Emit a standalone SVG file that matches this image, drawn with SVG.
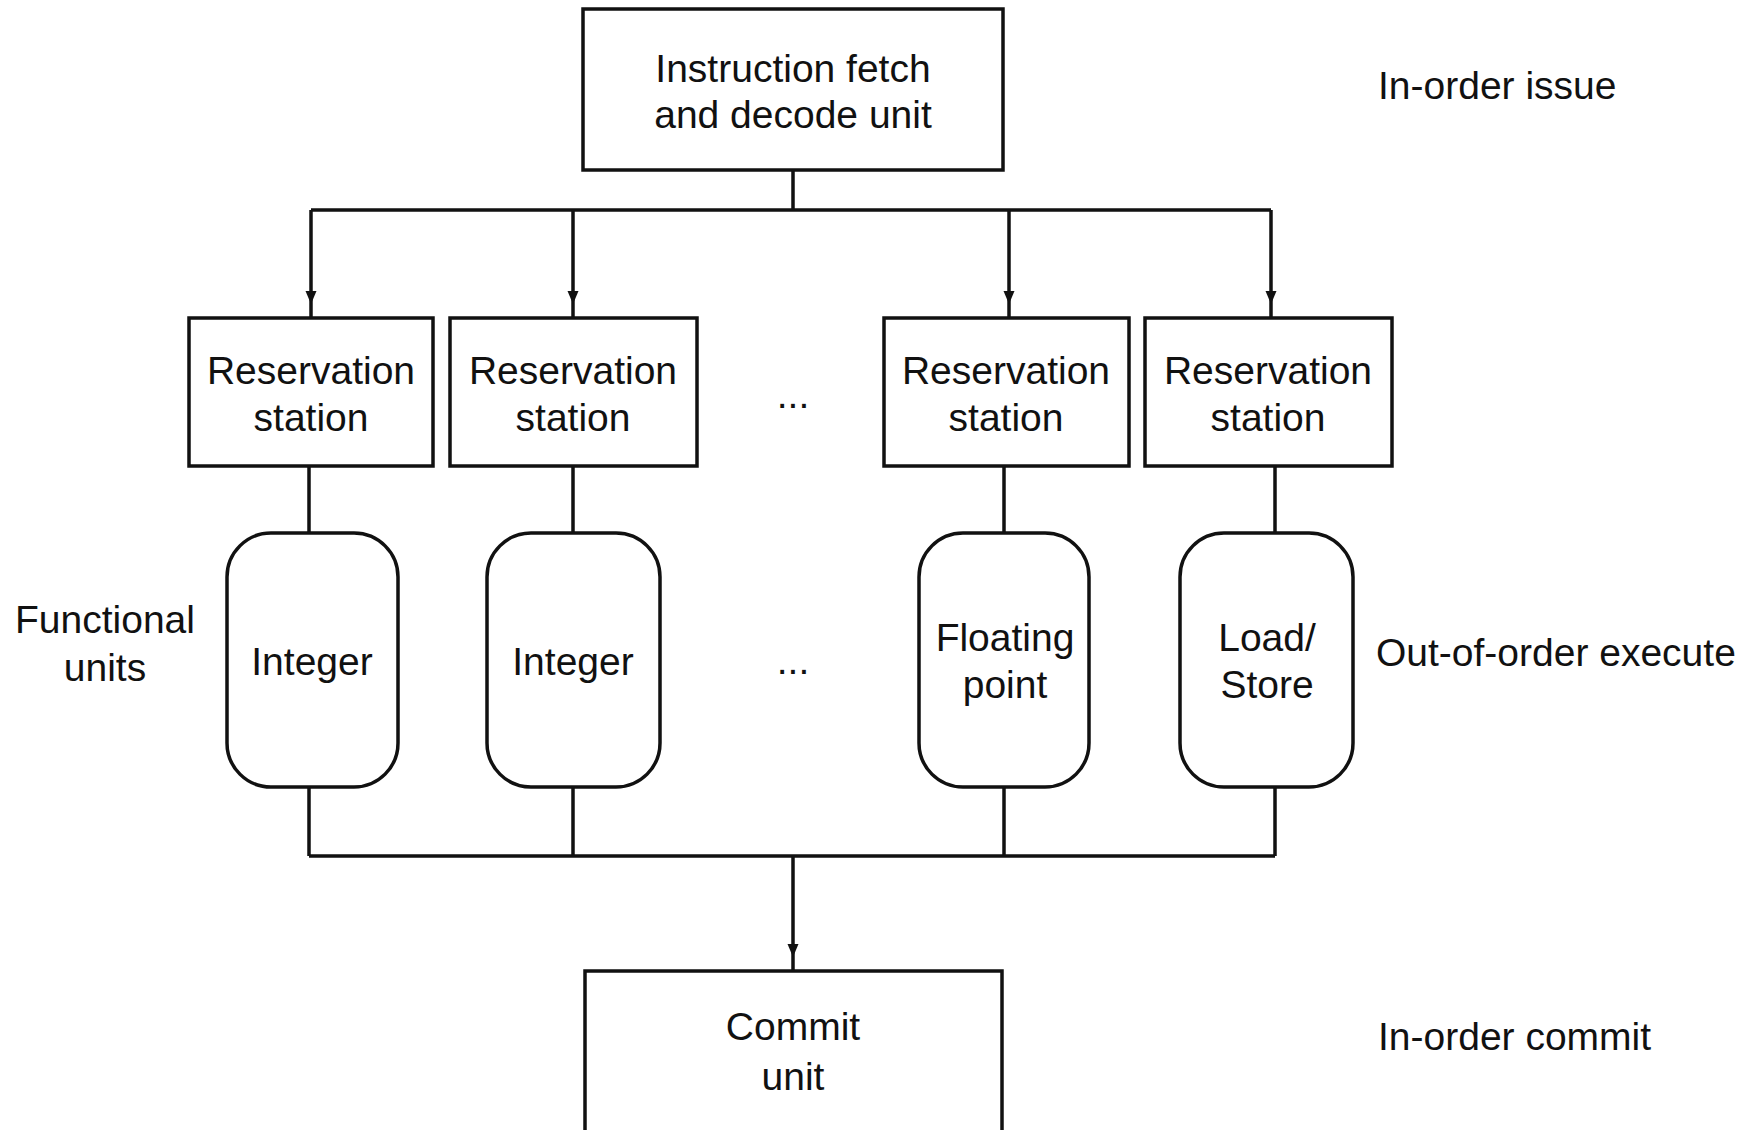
<svg xmlns="http://www.w3.org/2000/svg" width="1761" height="1130" viewBox="0 0 1761 1130">
<style>
.box{fill:#fff;stroke:#111;stroke-width:3.5}
.ln{fill:none;stroke:#111;stroke-width:3.5}
text{font-family:"Liberation Sans",Arial,sans-serif;font-size:39px;fill:#111}
.c{text-anchor:middle}
</style>
<defs>
<marker id="ah" markerUnits="userSpaceOnUse" viewBox="0 0 13 12" markerWidth="13" markerHeight="12" refX="27" refY="6" orient="auto">
<path d="M0,0.5 L13,6 L0,11.5 z" fill="#111"/>
</marker>
</defs>
<rect width="1761" height="1130" fill="#fff"/>
<g id="connectors">
<path class="ln" d="M793,170 V210 M311,210 H1271"/>
<path class="ln" d="M311,210 V318" marker-end="url(#ah)"/>
<path class="ln" d="M573,210 V318" marker-end="url(#ah)"/>
<path class="ln" d="M1009,210 V318" marker-end="url(#ah)"/>
<path class="ln" d="M1271,210 V318" marker-end="url(#ah)"/>
<path class="ln" d="M309,466 V533 M573,466 V533 M1004,466 V533 M1275,466 V533"/>
<path class="ln" d="M309,787 V856 M573,787 V856 M1004,787 V856 M1275,787 V856 M309,856 H1275"/>
<path class="ln" d="M793,856 V971" marker-end="url(#ah)"/>
</g>
<g id="fetch">
<rect class="box" x="583" y="9" width="420" height="161"/>
<text class="c" x="793" y="82">Instruction fetch</text>
<text class="c" x="793" y="128">and decode unit</text>
</g>
<g id="rs1">
<rect class="box" x="189" y="318" width="244" height="148"/>
<text class="c" x="311" y="384">Reservation</text>
<text class="c" x="311" y="431">station</text>
</g>
<g id="rs2">
<rect class="box" x="450" y="318" width="247" height="148"/>
<text class="c" x="573" y="384">Reservation</text>
<text class="c" x="573" y="431">station</text>
</g>
<g id="dots1"><text class="c" x="793" y="408">...</text></g>
<g id="rs3">
<rect class="box" x="884" y="318" width="245" height="148"/>
<text class="c" x="1006" y="384">Reservation</text>
<text class="c" x="1006" y="431">station</text>
</g>
<g id="rs4">
<rect class="box" x="1145" y="318" width="247" height="148"/>
<text class="c" x="1268" y="384">Reservation</text>
<text class="c" x="1268" y="431">station</text>
</g>
<g id="fu-label">
<text class="c" x="105" y="633">Functional</text>
<text class="c" x="105" y="681">units</text>
</g>
<g id="fu1">
<rect class="box" x="227" y="533" width="171" height="254" rx="44" ry="44"/>
<text class="c" x="312" y="675">Integer</text>
</g>
<g id="fu2">
<rect class="box" x="487" y="533" width="173" height="254" rx="44" ry="44"/>
<text class="c" x="573" y="675">Integer</text>
</g>
<g id="dots2"><text class="c" x="793" y="674">...</text></g>
<g id="fu3">
<rect class="box" x="919" y="533" width="170" height="254" rx="44" ry="44"/>
<text class="c" x="1005" y="651">Floating</text>
<text class="c" x="1005" y="698">point</text>
</g>
<g id="fu4">
<rect class="box" x="1180" y="533" width="173" height="254" rx="44" ry="44"/>
<text class="c" x="1267" y="651">Load/</text>
<text class="c" x="1267" y="698">Store</text>
</g>
<g id="commit">
<rect class="box" x="585" y="971" width="417" height="175"/>
<text class="c" x="793" y="1040">Commit</text>
<text class="c" x="793" y="1090">unit</text>
</g>
<g id="stage-labels">
<text x="1378" y="99">In-order issue</text>
<text x="1376" y="666">Out-of-order execute</text>
<text x="1378" y="1050">In-order commit</text>
</g>
</svg>
